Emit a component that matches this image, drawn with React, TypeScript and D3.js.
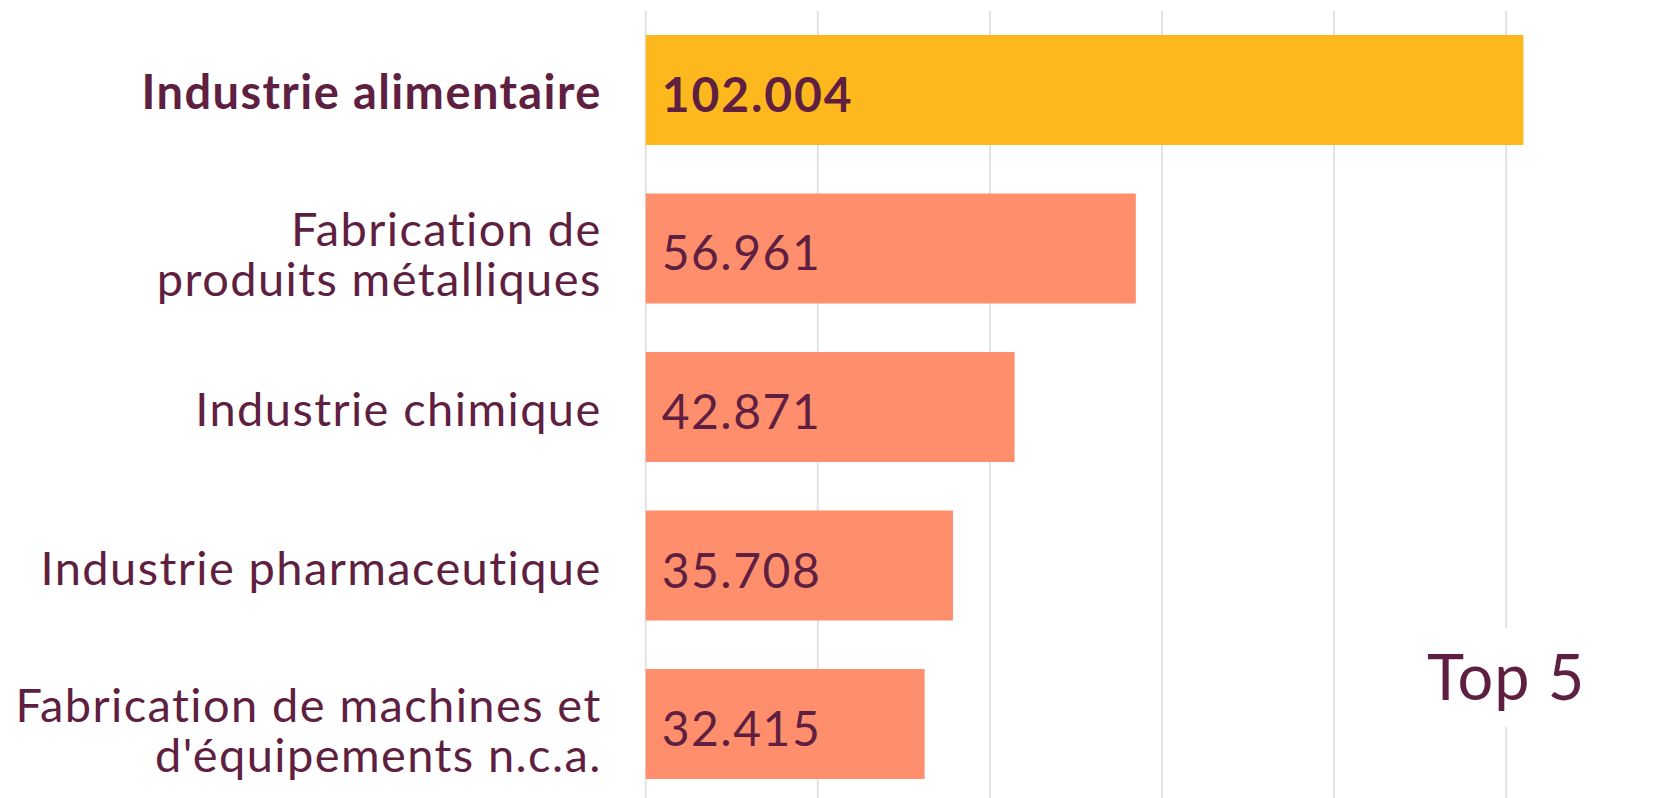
import React from "react";
import * as d3 from "d3";

// ---- data ----
const categories: string[] = [
  "Industrie alimentaire",
  "Fabrication de produits métalliques",
  "Industrie chimique",
  "Industrie pharmaceutique",
  "Fabrication de machines et d'équipements n.c.a.",
];
const categoryLines: string[][] = [
  ["Industrie alimentaire"],
  ["Fabrication de", "produits métalliques"],
  ["Industrie chimique"],
  ["Industrie pharmaceutique"],
  ["Fabrication de machines et", "d'équipements n.c.a."],
];
const values: number[] = [102004, 56961, 42871, 35708, 32415];
const highlighted: string[] = ["Industrie alimentaire"];
const gridTicks: number[] = [0, 20000, 40000, 60000, 80000, 100000];
const badgeText = "Top 5";

// ---- style ----
const W = 1668;
const H = 798;
const TEXT = "#5F1F41";
const YELLOW = "#FDB81E";
const SALMON = "#FF8F6C";
const GRID = "#E2E2E2";
const FONT = "Lato, 'Noto Sans', sans-serif";

const locale = d3.formatLocale({
  decimal: ",",
  thousands: ".",
  grouping: [3],
  currency: ["", " €"],
});
const fmt = locale.format(",d");

export default function App() {
  const x = d3
    .scaleLinear()
    .domain([0, d3.max(values) as number])
    .range([645.7, 1523.4]);
  const y = d3
    .scaleBand<string>()
    .domain(categories)
    .range([35, 779])
    .paddingInner(0.306)
    .paddingOuter(0);
  const bw = y.bandwidth();

  return (
    <div style={{ position: "fixed", left: 0, top: 0, width: W, height: H, background: "#fff" }}>
      <svg width={W} height={H} style={{ display: "block" }} fontFamily={FONT}>
        <rect width={W} height={H} fill="#fff" />
        {gridTicks.map((t) => (
          <line key={t} x1={x(t)} x2={x(t)} y1={11} y2={H} stroke={GRID} strokeWidth={2} />
        ))}
        {categories.map((c, i) => {
          const y0 = y(c) as number;
          const cy = y0 + bw / 2;
          const hl = highlighted.includes(c);
          const lines = categoryLines[i];
          const lineH = 50;
          const base = lines.length === 1 ? cy + 19 : cy - 2;
          return (
            <g key={c}>
              <rect x={x(0)} y={y0} width={x(values[i]) - x(0)} height={bw} fill={hl ? YELLOW : SALMON} />
              <text
                x={x(0) + 16}
                y={cy + 22}
                fill={TEXT}
                fontSize={48}
                fontWeight={hl ? 700 : 400}
                letterSpacing={hl ? 1.9 : 1.5}
              >
                {fmt(values[i])}
              </text>
              <text
                x={x(0) - 44}
                textAnchor="end"
                fill={TEXT}
                fontSize={47}
                fontWeight={hl ? 700 : 400}
                letterSpacing={1.4}
              >
                {lines.map((l, k) => (
                  <tspan key={k} x={x(0) - 44} y={base + k * lineH}>
                    {l}
                  </tspan>
                ))}
              </text>
            </g>
          );
        })}
        <rect x={1412} y={628} width={185} height={99} fill="#fff" />
        <text x={x(100000)} y={700} textAnchor="middle" fill={TEXT} fontSize={63} letterSpacing={1}>
          {badgeText}
        </text>
      </svg>
    </div>
  );
}
